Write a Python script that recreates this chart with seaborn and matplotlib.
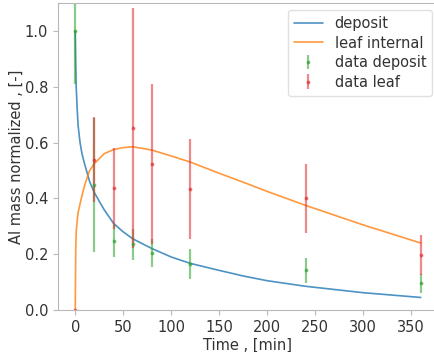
import numpy as np
import pandas as pd
import seaborn as sns
import matplotlib.pyplot as plt

# model curves
t_model = [0, 0.5, 1, 2, 3, 5, 7, 10, 15, 20, 30, 40, 50, 60, 80, 100,
           120, 150, 175, 200, 240, 300, 360]
deposit_model = [1.0, 0.88, 0.80, 0.72, 0.66, 0.60, 0.56, 0.52, 0.46, 0.42,
                 0.36, 0.31, 0.28, 0.255, 0.22, 0.19, 0.167, 0.142, 0.122,
                 0.105, 0.085, 0.062, 0.045]
leaf_model = [0.0, 0.22, 0.28, 0.32, 0.35, 0.38, 0.41, 0.45, 0.50, 0.525,
              0.56, 0.575, 0.582, 0.585, 0.573, 0.552, 0.53, 0.49, 0.458,
              0.425, 0.375, 0.305, 0.24]

# measurements
t_data = [0, 20, 40, 60, 80, 120, 240, 360]
deposit_data = [1.0, 0.448, 0.248, 0.236, 0.205, 0.164, 0.143, 0.096]
deposit_err = [0.19, 0.24, 0.058, 0.055, 0.05, 0.053, 0.045, 0.034]
leaf_data = [0.0, 0.538, 0.436, 0.651, 0.523, 0.434, 0.40, 0.197]
leaf_err = [0.0, 0.152, 0.144, 0.43, 0.287, 0.179, 0.123, 0.072]

sns.set_style("ticks", {"axes.edgecolor": "0.72", "xtick.color": "0.72",
                        "ytick.color": "0.72", "text.color": "0.2",
                        "axes.labelcolor": "0.2"})
plt.rcParams["font.family"] = ["DejaVu Sans"]
plt.rcParams["font.size"] = 10

fig = plt.figure(figsize=(4.34, 3.52), dpi=100)
ax = fig.add_axes([0.1336, 0.1193, 0.8756, 0.872])

model = pd.DataFrame({"t": t_model, "deposit": deposit_model,
                      "leaf internal": leaf_model})
model = model.melt(id_vars="t", var_name="series", value_name="mass")
sns.lineplot(data=model, x="t", y="mass", hue="series",
             palette=["#1f77b4", "#ff7f0e"], linewidth=1.2, alpha=0.8, ax=ax)

ax.errorbar(t_data, deposit_data, yerr=deposit_err, fmt=".", color="#2ca02c",
            markersize=3.5, elinewidth=1.6, alpha=0.55, label="data deposit")
ax.errorbar(t_data, leaf_data, yerr=leaf_err, fmt=".", color="#e3272a",
            markersize=3.5, elinewidth=1.6, alpha=0.55, label="data leaf")

ax.set_xlim(-18, 378)
ax.set_ylim(0, 1.1)
ax.set_xticks([0, 50, 100, 150, 200, 250, 300, 350])
ax.set_yticks([0.0, 0.2, 0.4, 0.6, 0.8, 1.0])
ax.tick_params(labelcolor="0.2", labelsize=10.5)
ax.set_xlabel("Time , [min]", fontsize=10.5, labelpad=2)
ax.set_ylabel("Al mass normalized , [-]", fontsize=10.5, labelpad=0.5)

handles, labels = ax.get_legend_handles_labels()
ax.legend(handles, labels, loc="upper right", fontsize=10.5,
          labelspacing=0.32, borderaxespad=0,
          bbox_to_anchor=(432 / 434, 1 - 10 / 352),
          bbox_transform=fig.transFigure,
          frameon=True, edgecolor="0.85")

fig.savefig("out.png", dpi=100)
